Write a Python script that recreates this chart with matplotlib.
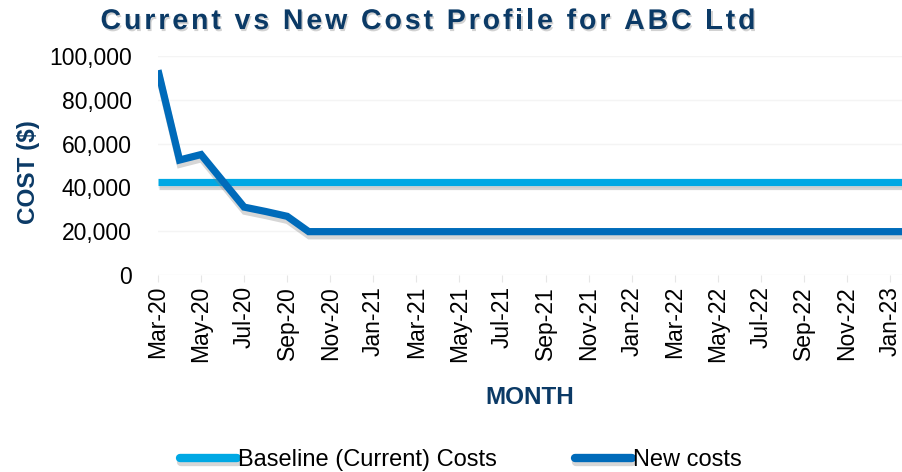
import matplotlib
matplotlib.use('Agg')
import matplotlib.pyplot as plt
import matplotlib.patheffects as pe
from matplotlib.font_manager import FontProperties, findfont
from matplotlib.ft2font import FT2Font
import numpy as np

plt.rcParams['font.family'] = ['Liberation Sans', 'DejaVu Sans']

months = ['Mar-20', 'Apr-20', 'May-20', 'Jun-20', 'Jul-20', 'Aug-20', 'Sep-20', 'Oct-20',
          'Nov-20', 'Dec-20', 'Jan-21', 'Feb-21', 'Mar-21', 'Apr-21', 'May-21', 'Jun-21',
          'Jul-21', 'Aug-21', 'Sep-21', 'Oct-21', 'Nov-21', 'Dec-21', 'Jan-22', 'Feb-22',
          'Mar-22', 'Apr-22', 'May-22', 'Jun-22', 'Jul-22', 'Aug-22', 'Sep-22', 'Oct-22',
          'Nov-22', 'Dec-22', 'Jan-23', 'Feb-23']
baseline = [42500] * 36
new_costs = [93500, 52500, 55000, 43000, 31000, 29000, 26800, 19800,
             19800, 19800, 19800, 19800, 19800, 19800, 19800, 19800,
             19800, 19800, 19800, 19800, 19800, 19800, 19800, 19800,
             19800, 19800, 19800, 19800, 19800, 19800, 19800, 19800,
             19800, 19800, 19800, 19800]

title = 'Current vs New Cost Profile for ABC Ltd'

c_base = '#00A8E4'
c_new = '#006BBA'
navy = '#0B3A66'

fig = plt.figure(figsize=(9.02, 4.72), dpi=100)
ax = fig.add_axes([158/902, 1-275/472, 744/902, (275-56)/472])

x = np.arange(len(months))
shadow = [pe.SimpleLineShadow(offset=(0.5, -3), shadow_color='gray', alpha=0.32), pe.Normal()]
ax.plot(x, baseline, color=c_base, lw=5.2, solid_capstyle='butt', path_effects=shadow,
        label='Baseline (Current) Costs')
ax.plot(x, new_costs, color=c_new, lw=5.2, solid_capstyle='butt', solid_joinstyle='miter',
        path_effects=shadow, label='New costs')

ax.set_xlim(0, 34.56)
ax.set_ylim(0, 100000)
ax.set_yticks(range(0, 100001, 20000))
ax.set_yticklabels(['{:,}'.format(v) for v in range(0, 100001, 20000)])
ax.set_xticks(x[:-1:2])
ax.set_xticklabels(months[:-1:2], rotation=90)
ax.tick_params(axis='y', length=0, labelsize=16.5, pad=19)
ax.tick_params(axis='x', length=5, color='#E6E6E6', labelsize=16.5, pad=3)
ax.grid(axis='y', color='#F4F4F4', lw=1)
ax.set_axisbelow(True)
for s in ax.spines.values():
    s.set_visible(False)

ax.set_xlabel('MONTH', fontsize=17.5, fontweight='bold', color=navy, labelpad=17)
ax.set_ylabel('COST ($)', fontsize=17.5, fontweight='bold', color=navy, va='center')
ax.yaxis.set_label_coords(-(158 - 28) / 744, 0.47)

# title with letter spacing, one glyph at a time
tsize = 20.5
prop = FontProperties(family='Liberation Sans', weight='bold', size=tsize)
font = FT2Font(findfont(prop))
font.set_size(tsize, 72)
adv = [font.load_char(ord(c)).linearHoriAdvance / 65536 for c in title]
target = 655 * 0.72
gap = (target - sum(adv)) / (len(title) - 1)
fig_w = 9.02 * 72
xpos = 428 * 0.72 - target / 2
for c, a in zip(title, adv):
    if c != ' ':
        fig.text(xpos / fig_w, 1-22/472, c, ha='left', va='center', fontproperties=prop, color=navy,
                 path_effects=[pe.withSimplePatchShadow(offset=(1, -1.5), shadow_rgbFace='gray', alpha=0.35)])
    xpos += a + gap

leg = fig.legend(loc='center', bbox_to_anchor=(461/902, 1-460/472), ncol=2, frameon=False,
                 fontsize=17, handlelength=2.4, handletextpad=0.05, columnspacing=3.3)
for h in leg.get_lines():
    h.set_linewidth(6)
    h.set_solid_capstyle('round')

fig.savefig('out.png', dpi=100)
